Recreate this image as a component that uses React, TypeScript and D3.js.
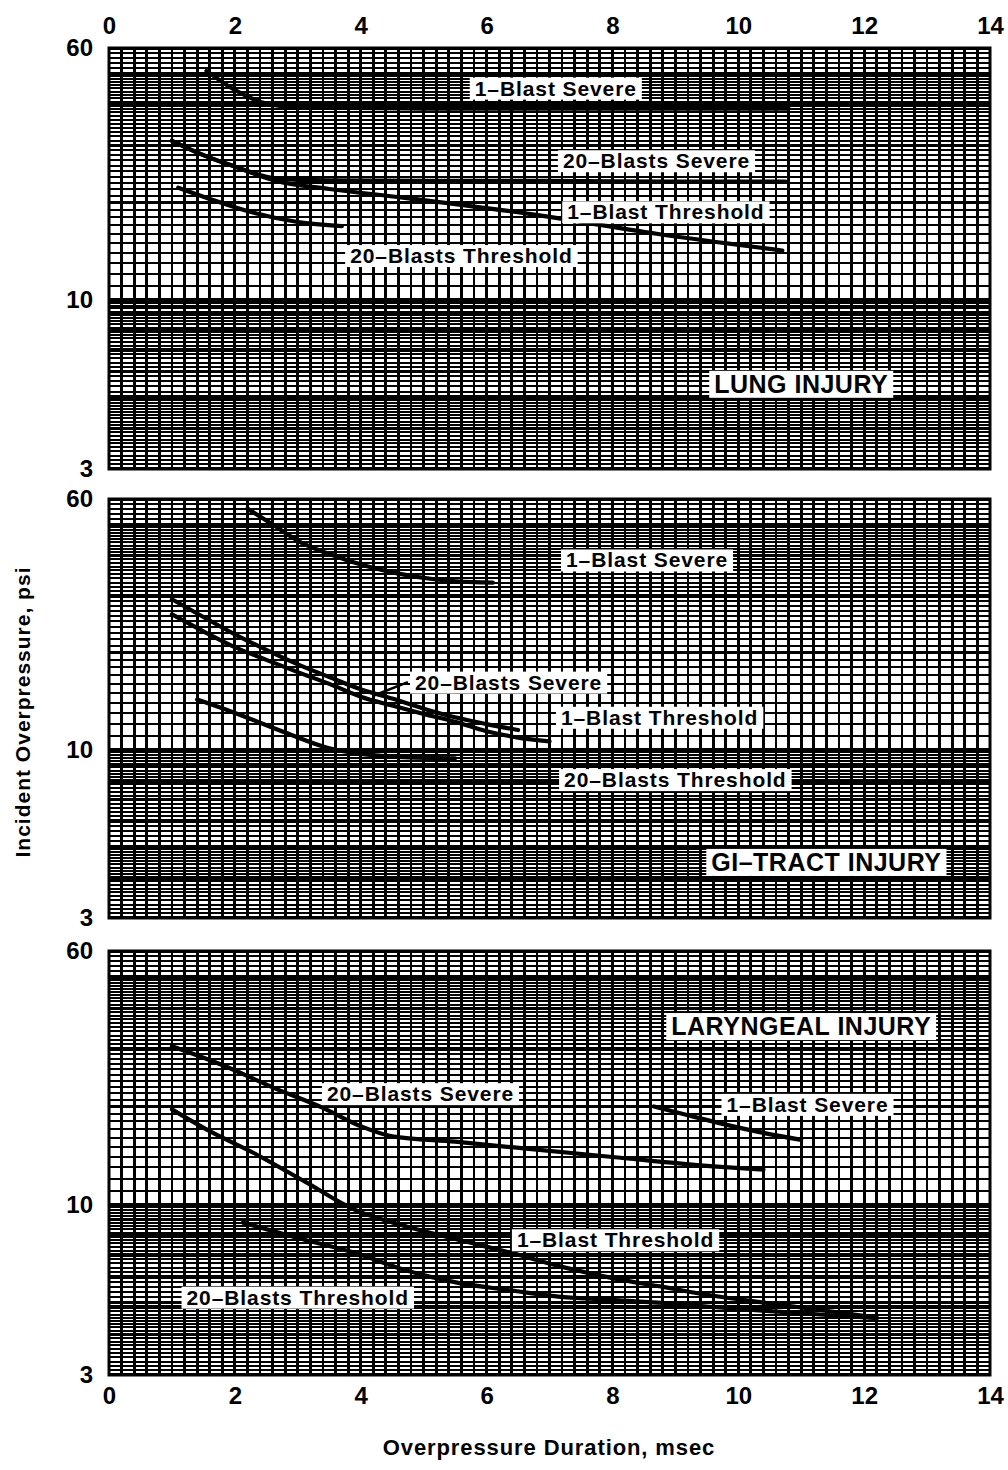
import * as d3 from "d3";
import { useRef, useEffect } from "react";

type Pt = [number, number];

const xTicks = [0, 2, 4, 6, 8, 10, 12, 14];
const yTicks = [60, 10, 3];

// lung injury curves (duration msec, overpressure psi)
const lungOneBlastSevere: Pt[] = [[1.55, 51], [2.0, 44.5], [2.5, 40.4], [3.0, 39.3], [5, 39.0], [8, 39.0], [10.8, 39.0]];
const lungTwentyBlastsSevere: Pt[] = [[1.0, 31], [1.5, 28], [2.0, 25.8], [2.66, 23.7], [3.5, 23.4], [5, 23.3], [7, 23.3], [9, 23.2], [10.75, 23.2]];
const lungOneBlastThreshold: Pt[] = [[1.0, 31], [1.5, 28], [2.0, 25.8], [2.66, 23.3], [3.5, 22], [4.67, 20.7], [6.7, 18.4], [8.7, 16.0], [10.7, 14.2]];
const lungTwentyBlastsThreshold: Pt[] = [[1.1, 22.2], [1.6, 20.5], [2.2, 18.8], [3.0, 17.4], [3.7, 16.9]];

// gi-tract injury curves
const giOneBlastSevere: Pt[] = [[2.2, 56], [2.6, 50], [3.04, 44.1], [3.5, 40.5], [4.1, 37.1], [4.6, 35.2], [5.17, 33.8], [5.8, 33.1], [6.1, 33.0]];
const giTwentyBlastsSevere: Pt[] = [[1.0, 29.3], [1.5, 25.8], [2.0, 22.8], [2.5, 20.4], [3.0, 18.4], [3.5, 16.8], [4.0, 15.4], [4.5, 14.4], [5.0, 13.4], [5.5, 12.6], [6.0, 12.0], [6.5, 11.5]];
const giOneBlastThreshold: Pt[] = [[1.0, 26.3], [1.5, 23.3], [2.0, 20.8], [2.5, 19.0], [3.0, 17.4], [3.5, 16.0], [4.0, 14.6], [4.5, 13.7], [5.0, 12.9], [5.5, 12.2], [6.0, 11.4], [6.5, 10.9], [7.0, 10.6]];
const giTwentyBlastsThreshold: Pt[] = [[1.4, 14.3], [2.0, 13.0], [2.8, 11.3], [3.5, 10.1], [4.0, 9.7], [4.6, 9.5], [5.5, 9.4]];

// laryngeal injury curves
const larTwentyBlastsSevere: Pt[] = [[1.0, 30.6], [1.8, 26.8], [2.6, 22.9], [3.4, 19.8], [4.0, 17.4], [4.5, 16.2], [5.5, 15.6], [6.4, 15.0], [8.0, 14.0], [9.6, 13.1], [10.4, 12.8]];
const larOneBlastSevere: Pt[] = [[8.66, 20.0], [9.2, 18.8], [9.8, 17.6], [10.4, 16.6], [11.0, 15.8]];
const larOneBlastThreshold: Pt[] = [[1.0, 19.6], [1.6, 16.8], [2.3, 14.4], [3.1, 11.8], [3.9, 9.65], [4.7, 8.6], [5.55, 7.8], [6.4, 7.1], [7.2, 6.44], [8.0, 5.95], [8.8, 5.59], [9.6, 5.25], [10.45, 4.99], [11.3, 4.75], [12.2, 4.5]];
const larTwentyBlastsThreshold: Pt[] = [[2.13, 8.8], [3.0, 7.9], [3.92, 7.1], [4.7, 6.3], [5.55, 5.75], [6.4, 5.45], [7.18, 5.21], [8.0, 5.1], [8.82, 4.99], [9.6, 4.85], [10.45, 4.72], [11.3, 4.6], [12.2, 4.48]];

// label anchors in data units [msec, psi]
const lungLabels: [string, number, number][] = [
  ["1–Blast Severe", 7.1, 45.1],
  ["20–Blasts Severe", 8.7, 26.9],
  ["1–Blast Threshold", 8.85, 18.7],
  ["20–Blasts Threshold", 5.6, 13.7],
];
const giLabels: [string, number, number][] = [
  ["1–Blast Severe", 8.55, 38.8],
  ["20–Blasts Severe", 6.35, 16.2],
  ["1–Blast Threshold", 8.75, 12.6],
  ["20–Blasts Threshold", 9.0, 8.07],
];
const larLabels: [string, number, number][] = [
  ["20–Blasts Severe", 4.95, 21.9],
  ["1–Blast Severe", 11.1, 20.3],
  ["1–Blast Threshold", 8.05, 7.8],
  ["20–Blasts Threshold", 3.0, 5.2],
];
const giPointer: Pt[] = [[4.75, 16.2], [4.2, 14.7]];

const panels = [
  { title: "LUNG INJURY", titleAt: [11.0, 5.5], curves: [lungOneBlastSevere, lungTwentyBlastsSevere, lungOneBlastThreshold, lungTwentyBlastsThreshold], labels: lungLabels, pointer: null as Pt[] | null },
  { title: "GI–TRACT INJURY", titleAt: [11.4, 4.48], curves: [giOneBlastSevere, giTwentyBlastsSevere, giOneBlastThreshold, giTwentyBlastsThreshold], labels: giLabels, pointer: giPointer },
  { title: "LARYNGEAL INJURY", titleAt: [11.0, 35.3], curves: [larTwentyBlastsSevere, larOneBlastSevere, larOneBlastThreshold, larTwentyBlastsThreshold], labels: larLabels, pointer: null as Pt[] | null },
];

const bands: [number, number][] = [[48, 469], [499, 918], [951, 1375]];
const FONT = "'Liberation Sans', Arial, Helvetica, sans-serif";

// log paper rulings
const vGrid = d3.range(0, 14.0001, 0.2);
const hMinor = [...d3.range(3, 4.999, 0.1), ...d3.range(5, 9.999, 0.2), ...d3.range(10, 49.99, 1), ...d3.range(50, 59.99, 2)];
const hMajor = [3, 4, 5, 6, 7, 8, 9, 10, 20, 30, 40, 50, 60];

export default function App() {
  const ref = useRef<SVGSVGElement>(null);

  useEffect(() => {
    const svg = d3.select(ref.current);
    svg.selectAll("*").remove();
    const x = d3.scaleLinear([0, 14], [109, 990]);

    panels.forEach((p, i) => {
      const [top, bottom] = bands[i];
      const y = d3.scaleLog([3, 60], [bottom, top]);
      const g = svg.append("g");
      const clipId = `clip-${i}`;
      g.append("clipPath").attr("id", clipId).append("rect")
        .attr("x", x(0)).attr("y", top).attr("width", x(14) - x(0)).attr("height", bottom - top);

      const grid = g.append("g").attr("clip-path", `url(#${clipId})`)
        .attr("stroke", "#000").attr("shape-rendering", "crispEdges");
      grid.append("g").selectAll("line").data(hMinor).join("line")
        .attr("x1", x(0)).attr("x2", x(14)).attr("y1", d => y(d)).attr("y2", d => y(d))
        .attr("stroke-width", 2);
      grid.append("g").selectAll("line").data(hMajor).join("line")
        .attr("x1", x(0)).attr("x2", x(14)).attr("y1", d => y(d)).attr("y2", d => y(d))
        .attr("stroke-width", 3.5);
      grid.append("g").selectAll("line").data(vGrid).join("line")
        .attr("y1", top).attr("y2", bottom).attr("x1", d => x(d)).attr("x2", d => x(d))
        .attr("stroke-width", 2.8);

      const line = d3.line<Pt>(d => x(d[0]), d => y(d[1])).curve(d3.curveMonotoneX);
      g.append("g").attr("clip-path", `url(#${clipId})`)
        .selectAll("path").data(p.curves).join("path")
        .attr("d", d => line(d)).attr("fill", "none").attr("stroke", "#000")
        .attr("stroke-width", 4.2).attr("stroke-linecap", "round");

      if (p.pointer) {
        g.append("path").attr("d", d3.line<Pt>(d => x(d[0]), d => y(d[1]))(p.pointer))
          .attr("fill", "none").attr("stroke", "#000").attr("stroke-width", 2.6);
      }

      g.append("rect").attr("x", x(0)).attr("y", top).attr("width", x(14) - x(0)).attr("height", bottom - top)
        .attr("fill", "none").attr("stroke", "#000").attr("stroke-width", 3);

      const boxLabel = (text: string, cx: number, cy: number, size: number, spacing: number) => {
        const lg = g.append("g");
        const t = lg.append("text").attr("x", cx).attr("y", cy).attr("text-anchor", "middle")
          .attr("dominant-baseline", "central").attr("font-family", FONT).attr("font-weight", "bold")
          .attr("font-size", size).attr("letter-spacing", spacing).attr("fill", "#000").text(text);
        const b = (t.node() as SVGTextElement).getBBox();
        lg.insert("rect", "text").attr("x", b.x - 5).attr("y", b.y + 1).attr("width", b.width + 10)
          .attr("height", b.height - 1).attr("fill", "#fff");
      };
      p.labels.forEach(([t, lx, ly]) => boxLabel(t, x(lx), y(ly), 21, 0.9));
      boxLabel(p.title, x(p.titleAt[0]), y(p.titleAt[1]), 25, 0.5);

      const yAxis = g.append("g").attr("transform", `translate(${x(0)},0)`)
        .call(d3.axisLeft(y).tickValues(yTicks).tickFormat(d3.format("d")).tickSize(0).tickPadding(16));
      yAxis.select(".domain").remove();
      yAxis.selectAll("text").attr("font-family", FONT).attr("font-weight", "bold").attr("font-size", 24).attr("fill", "#000");

      if (i === 0) {
        const ax = g.append("g").attr("transform", `translate(0,${top})`)
          .call(d3.axisTop(x).tickValues(xTicks).tickSize(0).tickPadding(14));
        ax.select(".domain").remove();
        ax.selectAll("text").attr("font-family", FONT).attr("font-weight", "bold").attr("font-size", 24).attr("fill", "#000");
      }
      if (i === panels.length - 1) {
        const ax = g.append("g").attr("transform", `translate(0,${bottom})`)
          .call(d3.axisBottom(x).tickValues(xTicks).tickSize(0).tickPadding(12));
        ax.select(".domain").remove();
        ax.selectAll("text").attr("font-family", FONT).attr("font-weight", "bold").attr("font-size", 24).attr("fill", "#000");
      }
    });

    svg.append("text").attr("transform", "translate(22,712) rotate(-90)")
      .attr("text-anchor", "middle").attr("dominant-baseline", "central")
      .attr("font-family", FONT).attr("font-weight", "bold").attr("font-size", 21).attr("letter-spacing", 1)
      .text("Incident Overpressure, psi");
    svg.append("text").attr("x", 549).attr("y", 1447)
      .attr("text-anchor", "middle").attr("dominant-baseline", "central")
      .attr("font-family", FONT).attr("font-weight", "bold").attr("font-size", 22).attr("letter-spacing", 0.9)
      .text("Overpressure Duration, msec");
  }, []);

  return (
    <svg ref={ref} width={1008} height={1470}
      style={{ position: "absolute", left: 0, top: 0, background: "#fff" }} />
  );
}
